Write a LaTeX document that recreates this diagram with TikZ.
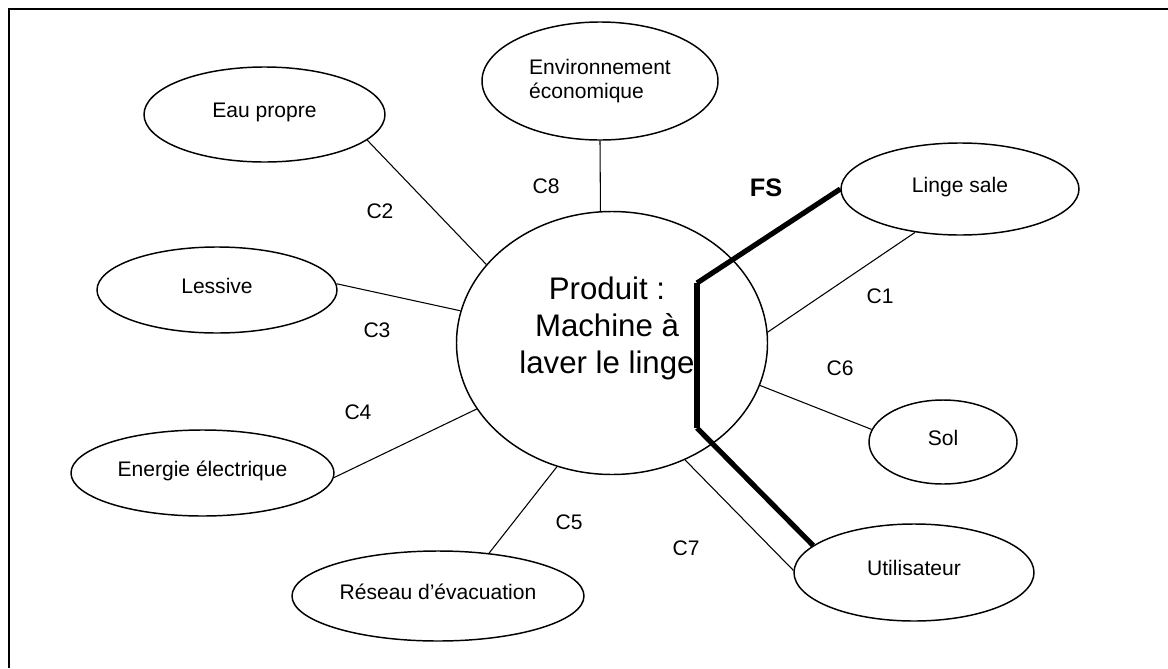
\documentclass[tikz,border=0pt]{standalone}
\usepackage{fontspec}
\setmainfont{Liberation Sans}
\usetikzlibrary{shapes.geometric}

\begin{document}
\begin{tikzpicture}[
    x=0.75pt, y=-0.75pt,
    font=\fontsize{15.8}{18}\selectfont,
    ell/.style={ellipse, draw, line width=1.1pt, inner sep=0pt, align=left},
    sgl/.style={text height=0.72em, text depth=0.21em},
    lnk/.style={line width=0.8pt},
    fsl/.style={line width=3.9pt},
    lab/.style={inner sep=0pt}
]
\useasboundingbox (0,0) rectangle (1168,668);
\draw[line width=1.5pt] (1168,9) -- (9,9) -- (9,668);

\node[ell, minimum width=233.25pt, minimum height=197.25pt] (prod) at (612,343) {};
\node[align=center, inner sep=0pt, font=\fontsize{23.4}{27.8}\selectfont] (prodtxt) at (607,328)
    {Produit :\\Machine à\\laver le linge};

\node[ell, sgl, minimum width=180.75pt, minimum height=71.25pt] (eau) at (264.5,114.5) {Eau propre};
\node[ell, minimum width=177pt, minimum height=88.5pt] (env) at (600,81) {Environnement\\économique};
\node[ell, sgl, minimum width=178.5pt, minimum height=69pt] (linge) at (960,189) {Linge sale};
\node[ell, sgl, minimum width=180pt, minimum height=64.5pt] (less) at (217,290) {Lessive};
\node[ell, sgl, minimum width=197.25pt, minimum height=64.5pt] (elec) at (202.5,473) {Energie électrique};
\node[ell, sgl, minimum width=219pt, minimum height=67.5pt] (res) at (438,596) {Réseau d’évacuation};
\node[ell, sgl, minimum width=111pt, minimum height=63pt] (sol) at (943,442) {Sol};
\node[ell, sgl, minimum width=180pt, minimum height=72.75pt] (util) at (914,572.5) {Utilisateur};

% contraintes
\draw[lnk] (linge.-136) -- (prod.4);
\draw[lnk] (eau.-14) -- (prod.148);
\draw[lnk] (less.3) -- (prod.168);
\draw[lnk] (elec.-2) -- (prod.-154);
\draw[lnk] (prod.-114) -- (res.40);
\draw[lnk] (prod.-16) -- (sol.170);
\draw[lnk] (prod.-58) -- (util.179);
\draw[lnk] (env.-90) -- (prod.95);

% fonction de service
\coordinate (fsa) at (697,283);
\coordinate (fsb) at (697,428);
\draw[fsl] (linge.west) -- (fsa);
\draw[fsl] (fsa) -- (fsb);
\draw[fsl] (fsb) -- (util.165);

\node[lab] (c1) at (880,296) {C1};
\node[lab] (c2) at (380,211) {C2};
\node[lab] (c3) at (377,330) {C3};
\node[lab] (c4) at (358,412) {C4};
\node[lab] (c5) at (569,522) {C5};
\node[lab] (c6) at (840,368) {C6};
\node[lab] (c7) at (686,548) {C7};
\node[lab] (c8) at (546,186) {C8};
\node[lab, font=\fontsize{19}{22}\selectfont\bfseries] (fs) at (766,188) {FS};
\end{tikzpicture}
\end{document}
